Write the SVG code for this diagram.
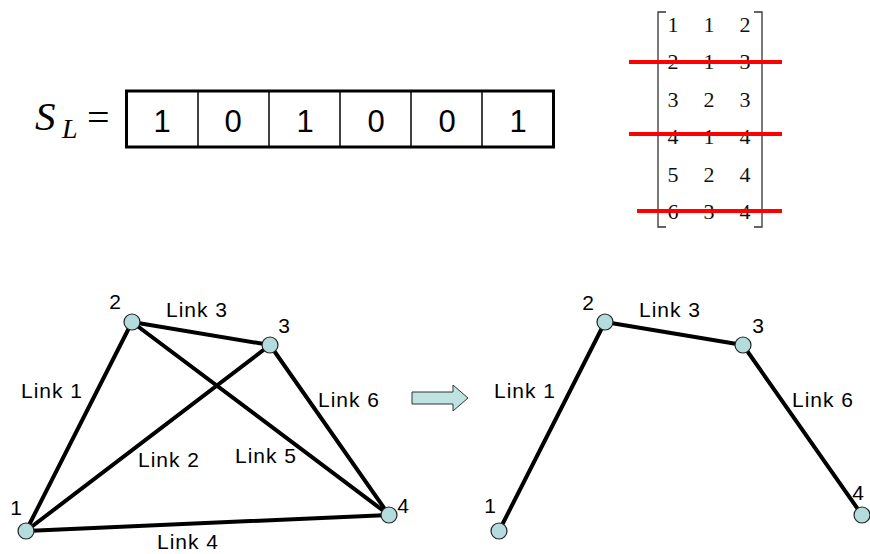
<svg xmlns="http://www.w3.org/2000/svg" width="870" height="554" viewBox="0 0 870 554">
  <style>
    .lbl { font-family: "Liberation Sans", Arial, sans-serif; font-size: 21px; fill: #000; letter-spacing: 1px; }
    .num { font-family: "Liberation Sans", Arial, sans-serif; font-size: 21px; fill: #000; text-anchor: middle; }
    .bit { font-family: "Liberation Sans", Arial, sans-serif; font-size: 31px; fill: #000; text-anchor: middle; }
    .mat { font-family: "Liberation Serif", "Times New Roman", serif; font-size: 22px; fill: #111; text-anchor: middle; }
    .math { font-family: "Liberation Serif", "Times New Roman", serif; fill: #000; }
    .edge { stroke: #000; stroke-width: 4; stroke-linecap: round; fill: none; }
    .node { fill: #b4dcdc; stroke: #222; stroke-width: 1.2; }
    .strike { stroke: #ff0000; stroke-width: 4; }
    .brk { stroke: #333; stroke-width: 1.3; fill: none; }
  </style>

  <!-- link-selection vector -->
  <g id="selection-vector">
    <text class="math" x="35" y="130" font-style="italic" font-size="41">S</text>
    <text class="math" x="62" y="138" font-style="italic" font-size="28">L</text>
    <text class="math" x="87" y="131" font-size="40">=</text>
    <rect x="126.5" y="91" width="427" height="56" fill="#fff" stroke="#000" stroke-width="3"/>
    <g stroke="#000" stroke-width="1.5">
      <line x1="198" y1="91" x2="198" y2="147"/>
      <line x1="269" y1="91" x2="269" y2="147"/>
      <line x1="340" y1="91" x2="340" y2="147"/>
      <line x1="411" y1="91" x2="411" y2="147"/>
      <line x1="482" y1="91" x2="482" y2="147"/>
    </g>
    <text class="bit" x="162" y="132">1</text>
    <text class="bit" x="233" y="132">0</text>
    <text class="bit" x="305" y="132">1</text>
    <text class="bit" x="376" y="132">0</text>
    <text class="bit" x="447" y="132">0</text>
    <text class="bit" x="518" y="132">1</text>
  </g>

  <!-- link table matrix -->
  <g id="link-matrix">
    <path class="brk" d="M666,12 H658 V227 H666"/>
    <path class="brk" d="M754,12 H762 V227 H754"/>
    <text class="mat" x="673" y="32">1</text><text class="mat" x="709" y="32">1</text><text class="mat" x="745" y="32">2</text>
    <text class="mat" x="673" y="69">2</text><text class="mat" x="709" y="69">1</text><text class="mat" x="745" y="69">3</text>
    <text class="mat" x="673" y="107">3</text><text class="mat" x="709" y="107">2</text><text class="mat" x="745" y="107">3</text>
    <text class="mat" x="673" y="144">4</text><text class="mat" x="709" y="144">1</text><text class="mat" x="745" y="144">4</text>
    <text class="mat" x="673" y="182">5</text><text class="mat" x="709" y="182">2</text><text class="mat" x="745" y="182">4</text>
    <text class="mat" x="673" y="219">6</text><text class="mat" x="709" y="219">3</text><text class="mat" x="745" y="219">4</text>
    <line class="strike" x1="629" y1="62" x2="782" y2="62"/>
    <line class="strike" x1="629" y1="134" x2="782" y2="134"/>
    <line class="strike" x1="637" y1="211" x2="782" y2="211"/>
  </g>

  <!-- full network connectors -->
  <g id="connectors-full">
    <line class="edge" x1="26" y1="531" x2="132" y2="322"/>
    <line class="edge" x1="26" y1="531" x2="270" y2="345"/>
    <line class="edge" x1="132" y1="322" x2="270" y2="345"/>
    <line class="edge" x1="26" y1="531" x2="389" y2="515"/>
    <line class="edge" x1="132" y1="322" x2="389" y2="515"/>
    <line class="edge" x1="270" y1="345" x2="389" y2="515"/>
  </g>

  <!-- reduced network connectors -->
  <g id="connectors-reduced">
    <line class="edge" x1="499" y1="531" x2="605" y2="322"/>
    <line class="edge" x1="605" y1="322" x2="743" y2="345"/>
    <line class="edge" x1="743" y1="345" x2="862" y2="515"/>
  </g>

  <!-- link labels -->
  <g id="link-labels">
    <text class="lbl" x="21" y="398">Link 1</text>
    <text class="lbl" x="138" y="467">Link 2</text>
    <text class="lbl" x="166" y="317">Link 3</text>
    <text class="lbl" x="157" y="549">Link 4</text>
    <text class="lbl" x="235" y="463">Link 5</text>
    <text class="lbl" x="318" y="407">Link 6</text>
    <text class="lbl" x="494" y="398">Link 1</text>
    <text class="lbl" x="639" y="317">Link 3</text>
    <text class="lbl" x="792" y="407">Link 6</text>
  </g>

  <!-- full network nodes -->
  <g id="n1"><circle class="node" cx="26" cy="531" r="8"/><text class="num" x="16" y="515">1</text></g>
  <g id="n2"><circle class="node" cx="132" cy="322" r="8"/><text class="num" x="115" y="309">2</text></g>
  <g id="n3"><circle class="node" cx="270" cy="345" r="8"/><text class="num" x="284" y="333">3</text></g>
  <g id="n4"><circle class="node" cx="389" cy="515" r="8"/><text class="num" x="403" y="513">4</text></g>

  <!-- transform arrow -->
  <g id="arrow">
    <path d="M412,392 H453 V385 L468,398 L453,411 V404 H412 Z" fill="#bfe3e3" stroke="#333" stroke-width="1"/>
  </g>

  <!-- reduced network nodes -->
  <g id="m1"><circle class="node" cx="499" cy="531" r="8"/><text class="num" x="490" y="513">1</text></g>
  <g id="m2"><circle class="node" cx="605" cy="322" r="8"/><text class="num" x="588" y="310">2</text></g>
  <g id="m3"><circle class="node" cx="743" cy="345" r="8"/><text class="num" x="758" y="333">3</text></g>
  <g id="m4"><circle class="node" cx="862" cy="515" r="8"/><text class="num" x="858" y="500" text-anchor="start">4</text></g>
</svg>
